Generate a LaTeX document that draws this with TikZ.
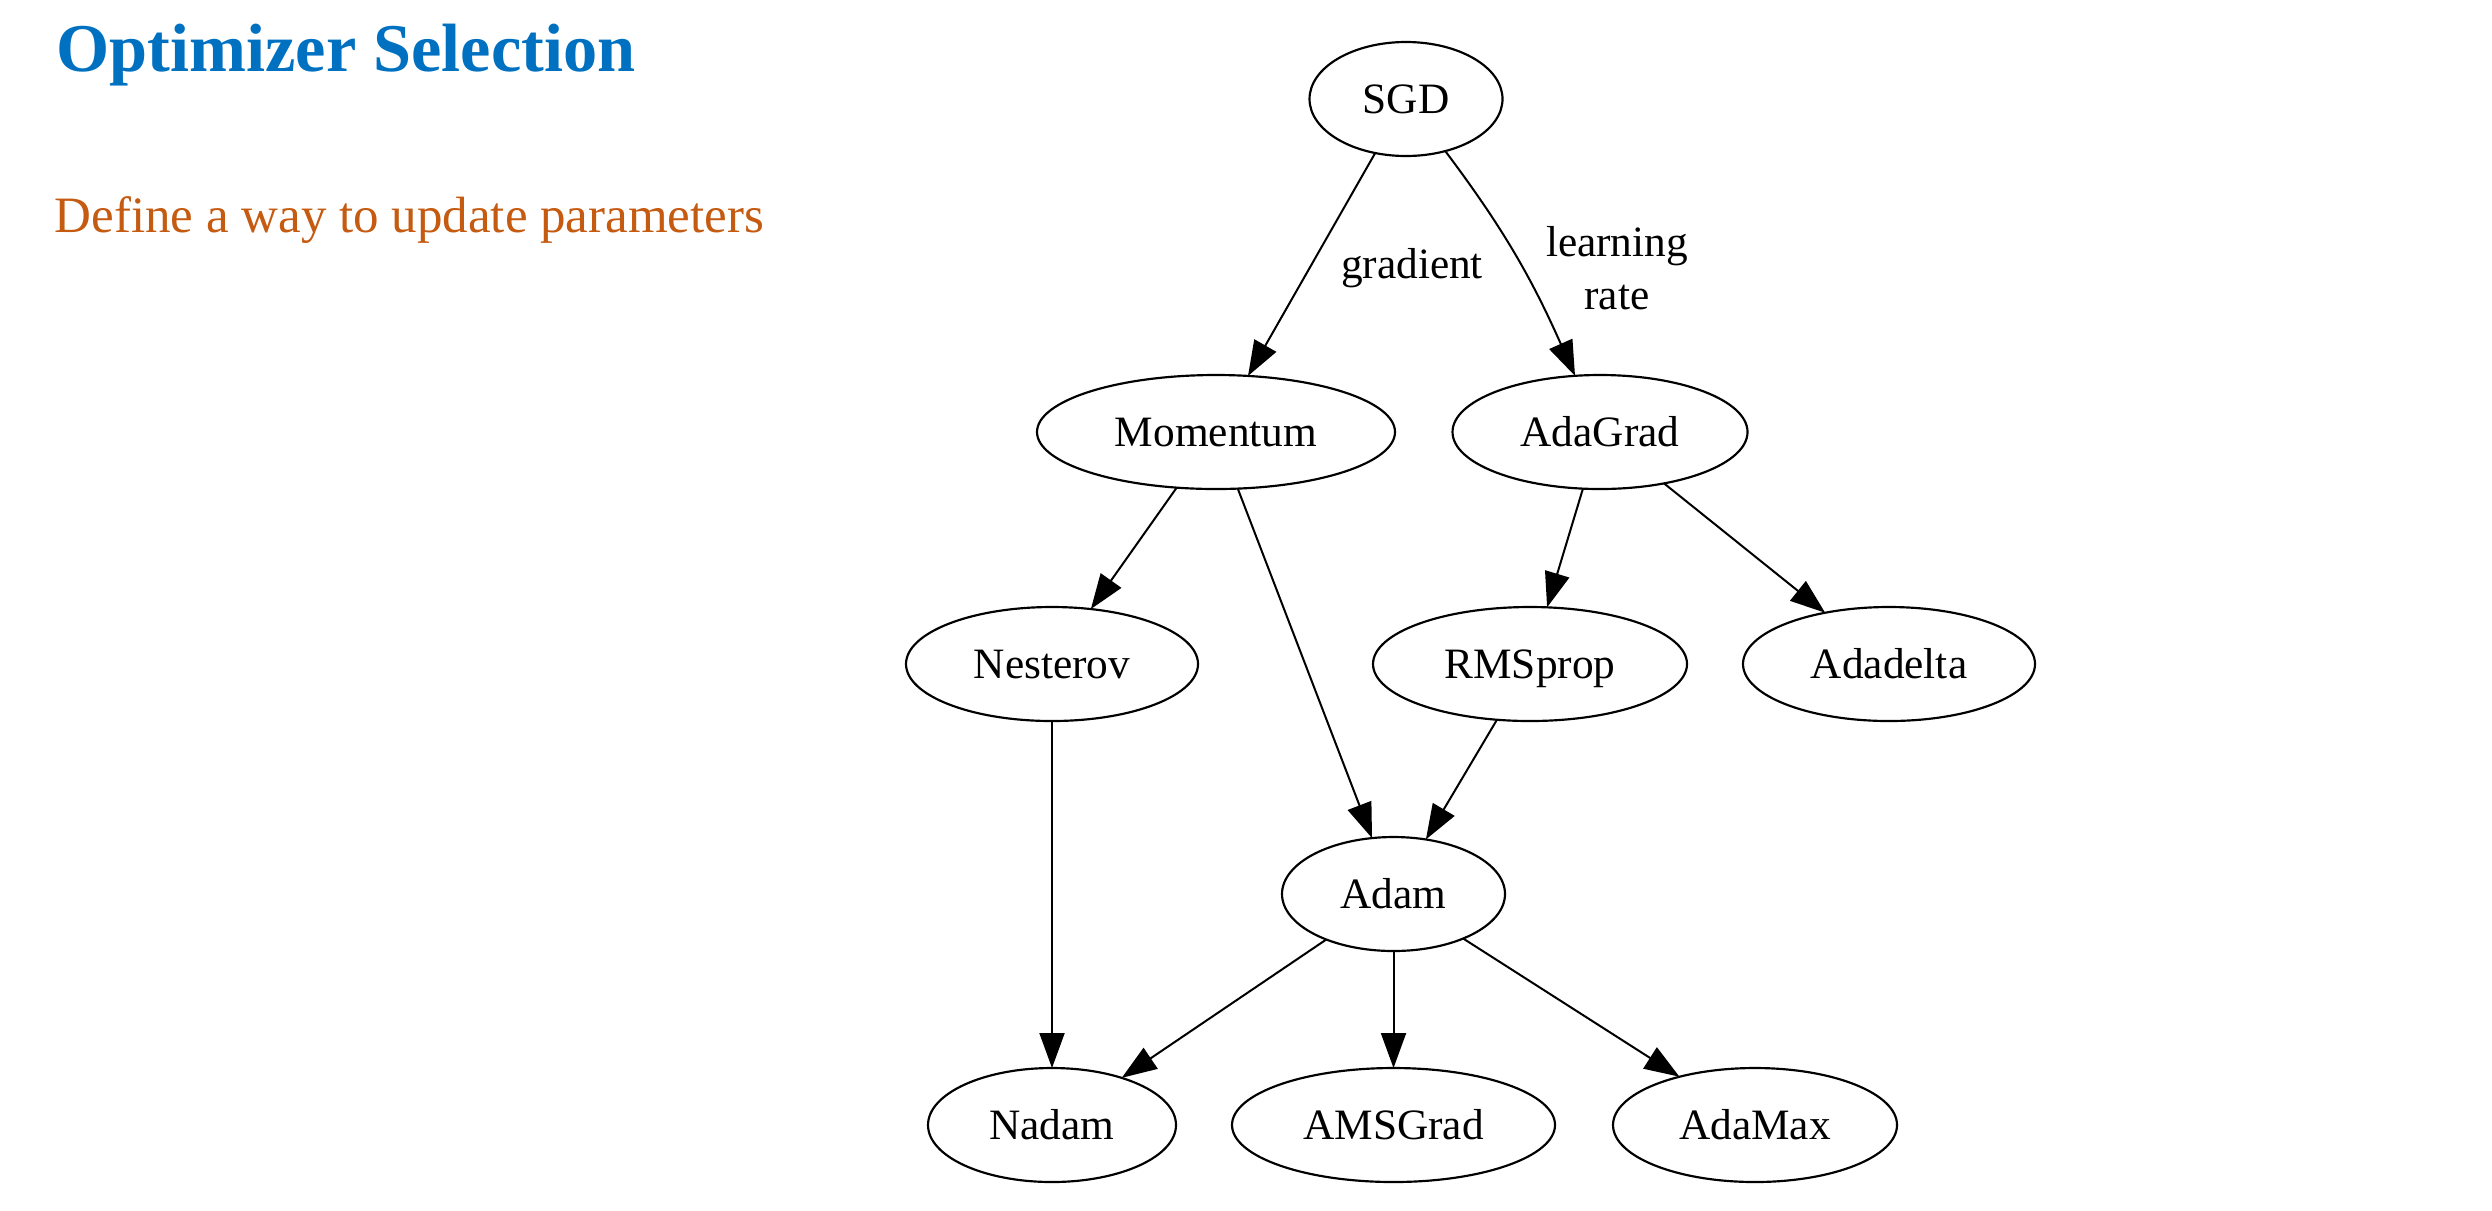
\documentclass[tikz,border=0pt]{standalone}
\usepackage{fontspec}
\setmainfont{Liberation Serif}
\usetikzlibrary{shapes.geometric,arrows.meta}
\definecolor{titleblue}{HTML}{0070C0}
\definecolor{suborange}{HTML}{C55A11}
\tikzset{
  opt/.style={draw=black, line width=0.65pt, ellipse, inner sep=0pt, outer sep=0pt,
    minimum height=34.2pt, text height=10.6pt, text depth=2.2pt,
    font=\fontsize{13pt}{16pt}\selectfont},
  edgelbl/.style={inner sep=0pt, align=center, font=\fontsize{13pt}{16pt}\selectfont},
  arr/.style={line width=0.6pt, -{Triangle[length=10.5pt,width=7.5pt]}}
}
\begin{document}
\begin{tikzpicture}[x=0.3pt,y=0.3pt]
\useasboundingbox (0,0) rectangle (2492,-1210);
\node[anchor=base west, inner sep=0pt, text=titleblue, font=\fontsize{20.5pt}{24pt}\selectfont\bfseries] (title) at (56,-71) {Optimizer Selection};
\node[anchor=base west, inner sep=0pt, text=suborange, font=\fontsize{15.3pt}{18pt}\selectfont] (sub) at (54,-232) {Define a way to update parameters};

\node[opt, minimum width=193*0.3pt] (sgd) at (1406,-99) {SGD};
\node[opt, minimum width=358*0.3pt] (mom) at (1216,-432) {Momentum};
\node[opt, minimum width=295*0.3pt] (adagrad) at (1600,-432) {AdaGrad};
\node[opt, minimum width=292*0.3pt] (nest) at (1052,-664) {Nesterov};
\node[opt, minimum width=314*0.3pt] (rms) at (1530,-664) {RMSprop};
\node[opt, minimum width=292*0.3pt] (adadelta) at (1889,-664) {Adadelta};
\node[opt, minimum width=223*0.3pt] (adam) at (1393.5,-894) {Adam};
\node[opt, minimum width=248*0.3pt] (nadam) at (1052,-1125) {Nadam};
\node[opt, minimum width=323*0.3pt] (ams) at (1393.5,-1125) {AMSGrad};
\node[opt, minimum width=284*0.3pt] (adamax) at (1755,-1125) {AdaMax};

\node[edgelbl, anchor=base] (lgrad) at (1412,-278) {gradient};
\node[edgelbl, anchor=center] (llr) at (1617,-268) {learning\\rate};

\draw[arr] (sgd) -- (mom);
\draw[arr] (sgd) to[out=-53,in=114] (adagrad);
\draw[arr] (mom) -- (nest);
\draw[arr] (mom) -- (adam);
\draw[arr] (adagrad) -- (rms);
\draw[arr] (adagrad) -- (adadelta);
\draw[arr] (rms) -- (adam);
\draw[arr] (nest) -- (nadam);
\draw[arr] (adam) -- (nadam);
\draw[arr] (adam) -- (ams);
\draw[arr] (adam) -- (adamax);
\end{tikzpicture}
\end{document}
